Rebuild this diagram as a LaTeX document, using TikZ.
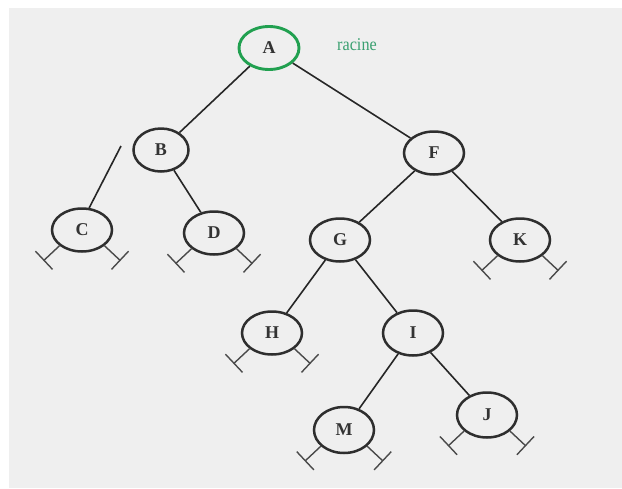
\documentclass[tikz,border=0pt]{standalone}
\usepackage{fontspec}
\setmainfont{Liberation Serif}
\usetikzlibrary{shapes.geometric,arrows.meta}
\definecolor{bgc}{HTML}{EFEFEF}
\definecolor{ndline}{HTML}{2E2E2E}
\definecolor{edgec}{HTML}{262626}
\definecolor{stubc}{HTML}{4A4A4A}
\definecolor{txt}{HTML}{333333}
\definecolor{rootg}{HTML}{21A050}
\definecolor{labg}{HTML}{3AA070}
\begin{document}
\begin{tikzpicture}[x=1pt,y=-1pt,
  nd/.style={ellipse,draw=ndline,line width=2.5pt,minimum width=60pt,minimum height=43pt,inner sep=0pt,font=\fontsize{18}{18}\selectfont\bfseries,text=txt},
  edge/.style={draw=edgec,line width=1.6pt},
  nil/.style={draw=stubc,line width=1.4pt,-{Bar[width=25pt,line width=1.4pt]}}]
\fill[bgc] (9,8) rectangle (622,488);
\useasboundingbox (0,0) rectangle (622,488);
% nodes
\node[nd,draw=rootg,line width=2.9pt] (A) at (269,48) {A};
\node[text=labg,font=\fontsize{18}{18}\selectfont,inner sep=0pt,xscale=0.9] (lab) at (357,45) {racine};
\node[nd,minimum width=55pt] (B) at (161,150) {B};
\node[nd] (F) at (434,153) {F};
\node[nd] (C) at (82,230) {C};
\node[nd] (D) at (214,233) {D};
\node[nd] (G) at (340,240) {G};
\node[nd] (K) at (520,240) {K};
\node[nd] (H) at (272,333) {H};
\node[nd,minimum height=45pt] (I) at (413,333) {I};
\node[nd,minimum height=46pt] (M) at (344,430) {M};
\node[nd,minimum height=45pt] (J) at (487,415) {J};
\coordinate (bc) at (121,146);
% edges
\draw[edge] (A) -- (B);
\draw[edge] (A) -- (F);
\draw[edge] (bc) -- (C.72);
\draw[edge] (B) -- (D);
\draw[edge] (F) -- (G);
\draw[edge] (F) -- (K);
\draw[edge] (G) -- (H);
\draw[edge] (G) -- (I);
\draw[edge] (I) -- (M);
\draw[edge] (I) -- (J);
% null pointers
\foreach \n in {C,D,K,H,M,J}{
  \draw[nil] (\n.215) -- ++(-16,15);
  \draw[nil] (\n.325) -- ++(16,15);
}
\end{tikzpicture}
\end{document}
